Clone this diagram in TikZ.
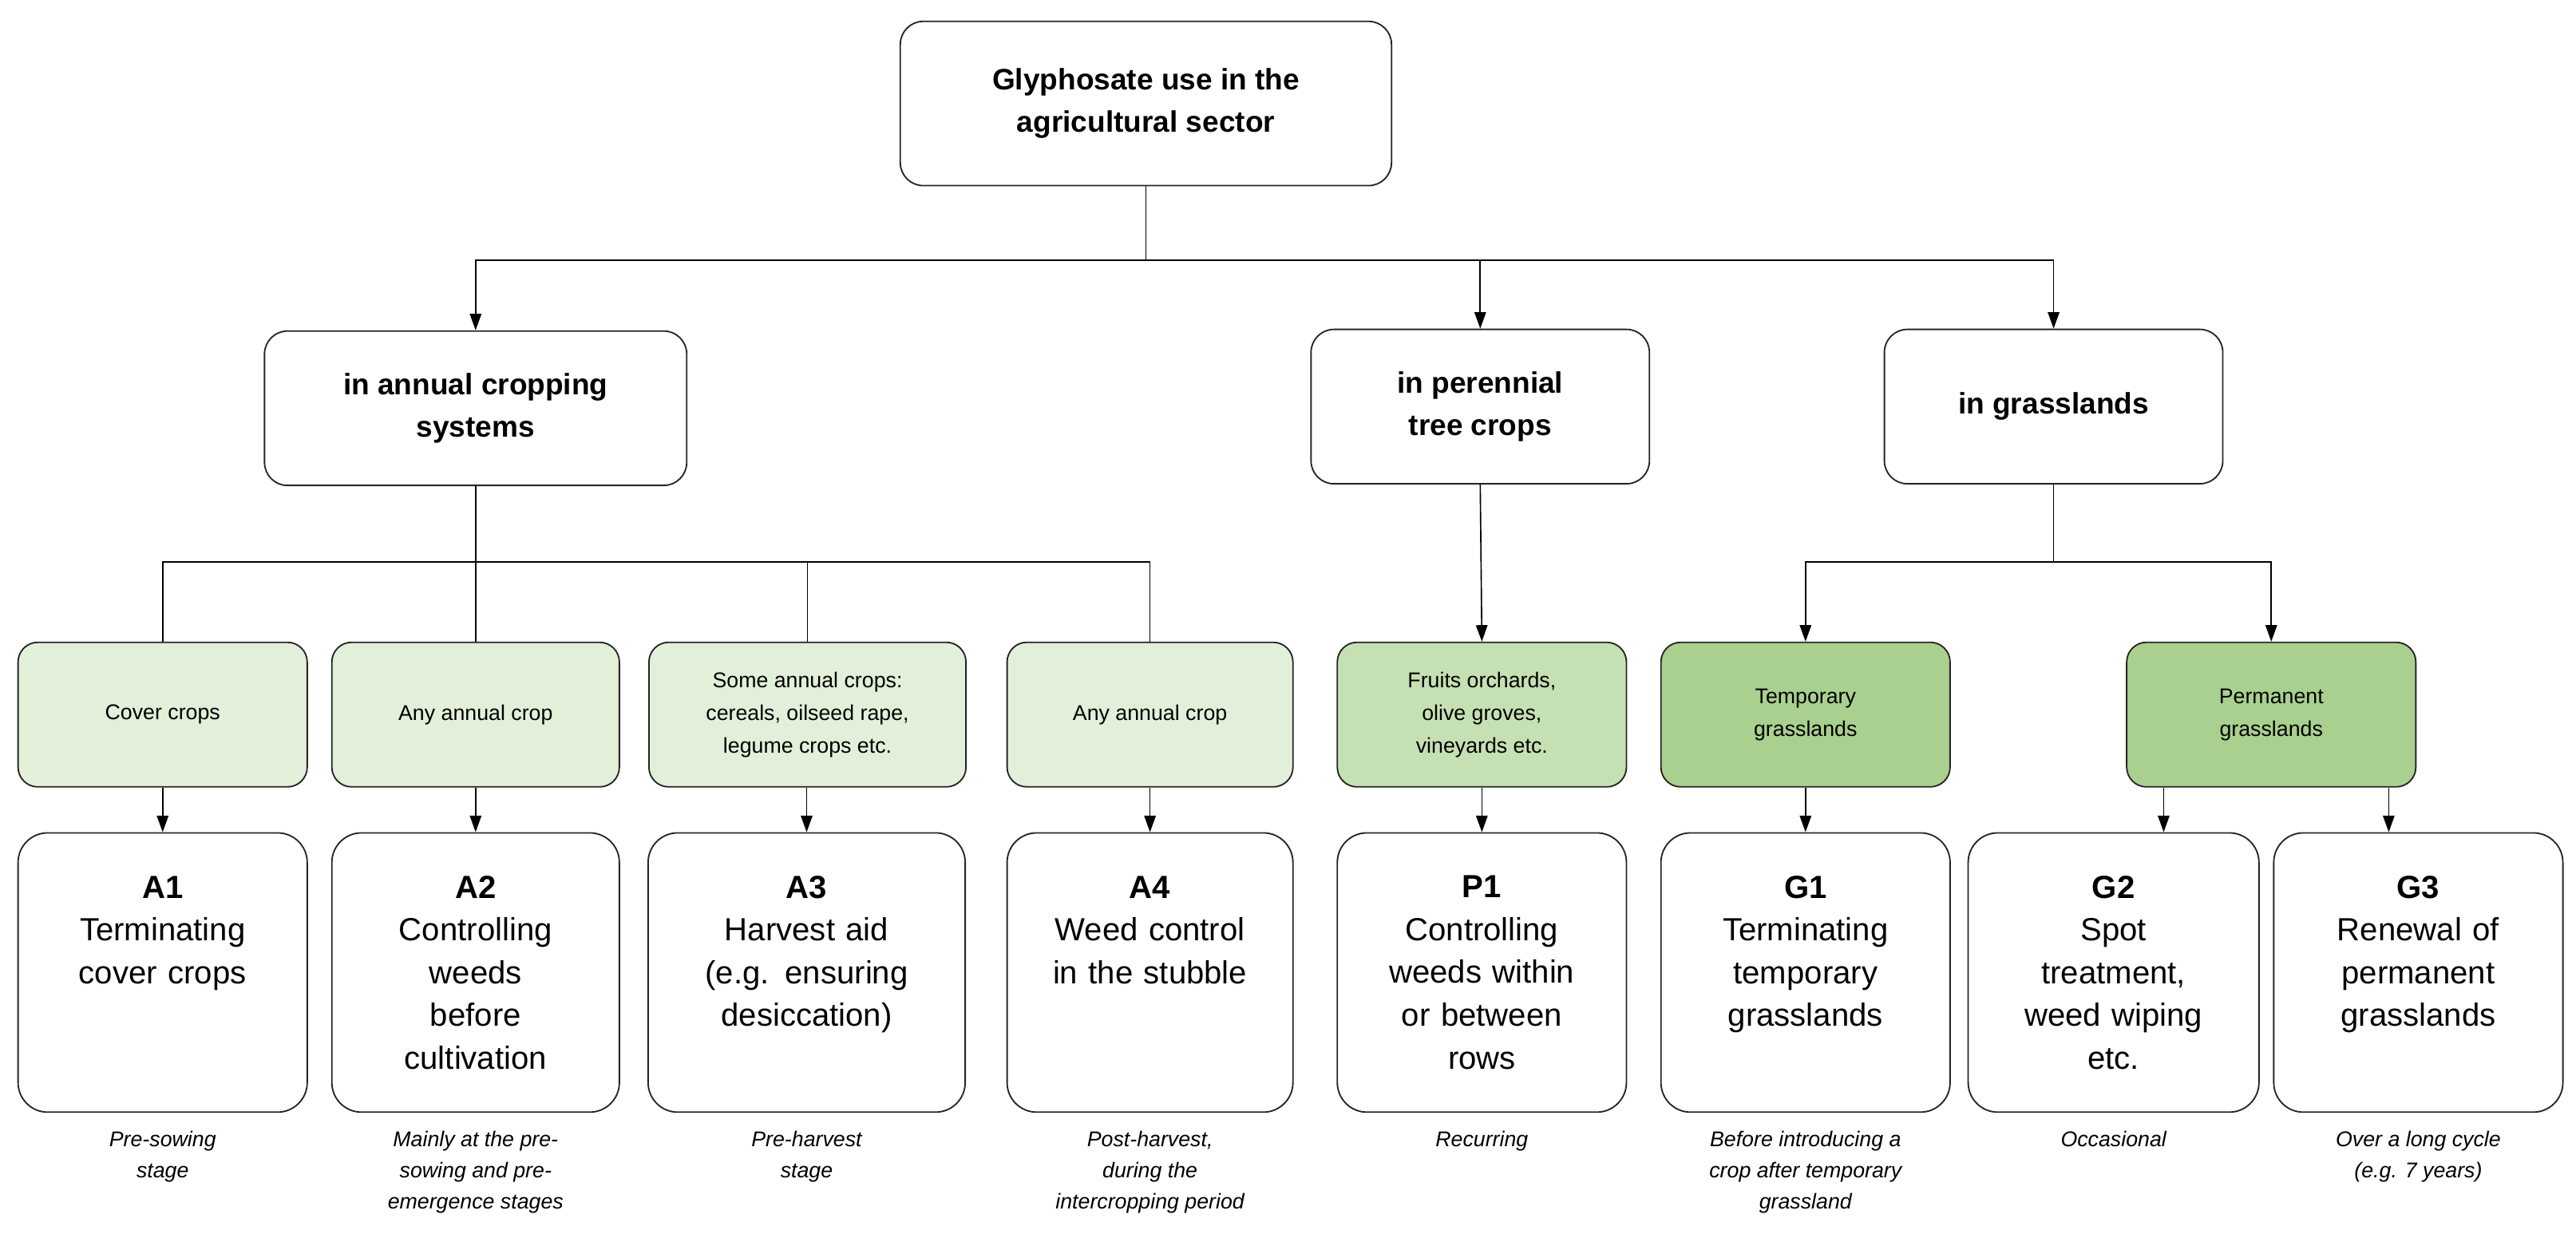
\documentclass[tikz,border=0pt]{standalone}
\usepackage{fontspec}
\setmainfont{Liberation Sans}
\usetikzlibrary{arrows.meta}
\definecolor{g1}{HTML}{E2EFD9}
\definecolor{g2}{HTML}{C5E0B3}
\definecolor{g3}{HTML}{A9D08E}
\begin{document}
\begin{tikzpicture}[x=1pt,y=-1pt,
 box/.style={draw=black!85,line width=0.9pt,rounded corners=14pt,align=center,inner sep=2pt},
 cat/.style={box,font=\fontsize{18}{26}\selectfont\bfseries,minimum height=94pt},
 grn/.style={box,font=\fontsize{13}{20}\selectfont,minimum width=176pt,minimum height=88pt,rounded corners=12pt},
 use/.style={box,font=\fontsize{19.5}{26}\selectfont,minimum height=170pt,minimum width=176pt,text width=170pt,rounded corners=18pt},
 capt/.style={font=\fontsize{13}{19}\selectfont\itshape,align=center,anchor=north},
 ln/.style={line width=0.8pt},
 arr/.style={ln,-{Triangle[length=10pt,width=7pt]}}]
\useasboundingbox (0,0) rectangle (1568,756);
\node[cat,minimum width=299pt,minimum height=100pt] (top) at (697.5,63) {Glyphosate use in the\\agricultural sector};
\node[cat,minimum width=257pt] (ann) at (289.5,248.5) {in annual cropping\\systems};
\node[cat,minimum width=206pt] (per) at (901,247.5) {in perennial\\tree crops};
\node[cat,minimum width=206pt] (gra) at (1250,247.5) {in grasslands};
\draw[arr] (top.south) -- ++(0,45) -| (ann.north);
\draw[arr] (top.south) -- ++(0,45) -| (per.north);
\draw[arr] (top.south) -- ++(0,45) -| (gra.north);
% green boxes
\node[grn,fill=g1] (c1) at (99,435) {Cover crops};
\node[grn,fill=g1,minimum width=175pt] (c2) at (289.5,435) {Any annual crop};
\node[grn,fill=g1,minimum width=193pt] (c3) at (491.5,435) {Some annual crops:\\cereals, oilseed rape,\\legume crops etc.};
\node[grn,fill=g1,minimum width=174pt] (c4) at (700,435) {Any annual crop};
\node[grn,fill=g2] (c5) at (902,435) {Fruits orchards,\\olive groves,\\vineyards etc.};
\node[grn,fill=g3] (c6) at (1099,435) {Temporary\\grasslands};
\node[grn,fill=g3] (c7) at (1382.5,435) {Permanent\\grasslands};
\foreach \c in {c1,c2,c3,c4} \draw[ln] (ann.south) -- ++(0,46) -| (\c.north);
\draw[arr] (per.south) -- (c5.north);
\draw[arr] (gra.south) -- ++(0,47) -| (c6.north);
\draw[arr] (gra.south) -- ++(0,47) -| (c7.north);
% use boxes
\node[use] (a1) at (99,592) {\textbf{A1}\\Terminating\\cover crops\\[26pt]\mbox{}};
\node[use,minimum width=175pt] (a2) at (289.5,592) {\textbf{A2}\\Controlling\\weeds\\before\\cultivation};
\node[use,minimum width=193pt,text width=188pt] (a3) at (491,592) {\textbf{A3}\\Harvest aid\\(e.g. ensuring\\desiccation)\\\mbox{}};
\node[use,minimum width=174pt] (a4) at (700,592) {\textbf{A4}\\Weed control\\in the stubble\\[26pt]\mbox{}};
\node[use] (p1) at (902,592) {\textbf{P1}\\Controlling\\weeds within\\or between\\rows};
\node[use] (t1) at (1099,592) {\textbf{G1}\\Terminating\\temporary\\grasslands\\\mbox{}};
\node[use,minimum width=177pt] (t2) at (1286.5,592) {\textbf{G2}\\Spot\\treatment,\\weed wiping\\etc.};
\node[use] (t3) at (1472,592) {\textbf{G3}\\Renewal of\\permanent\\grasslands\\\mbox{}};
\draw[arr] (c1.south) -- (a1.north);
\draw[arr] (c2.south) -- (a2.north);
\draw[arr] (c3.south -| a3.north) -- (a3.north);
\draw[arr] (c4.south) -- (a4.north);
\draw[arr] (c5.south) -- (p1.north);
\draw[arr] (c6.south) -- (t1.north);
\draw[arr] (c7.south -| 1317,0) -- (t2.north -| 1317,0);
\draw[arr] (c7.south -| 1454,0) -- (t3.north -| 1454,0);
% captions
\node[capt] (k1) at (99,685) {Pre-sowing\\stage};
\node[capt] (k2) at (289.5,685) {Mainly at the pre-\\sowing and pre-\\emergence stages};
\node[capt] (k3) at (491,685) {Pre-harvest\\stage};
\node[capt] (k4) at (700,685) {Post-harvest,\\during the\\intercropping period};
\node[capt] (k5) at (902,685) {Recurring};
\node[capt] (k6) at (1099,685) {Before introducing a\\crop after temporary\\grassland};
\node[capt] (k7) at (1286.5,685) {Occasional};
\node[capt] (k8) at (1472,685) {Over a long cycle\\(e.g. 7 years)};
\end{tikzpicture}
\end{document}
